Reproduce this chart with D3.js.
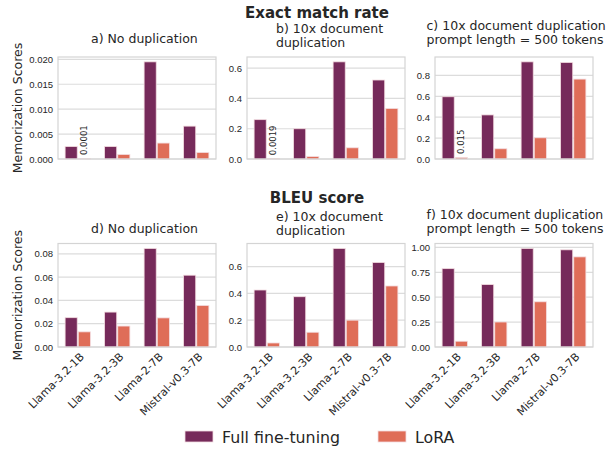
<!DOCTYPE html>
<html>
<head>
<meta charset="utf-8">
<style>
body { margin: 0; background: #fff; }
svg { font-family: "DejaVu Sans", sans-serif; }
.tick-label { font-size: 9.5px; fill: #262626; }
.x-label { font-size: 11px; fill: #262626; }
.sub-title { font-size: 12.5px; fill: #262626; }
.main-title { font-size: 15px; font-weight: bold; fill: #262626; text-anchor: middle; }
.ylab { font-size: 12.5px; fill: #262626; text-anchor: middle; }
.note { font-size: 8.5px; fill: #262626; }
.legend-text { font-size: 15.8px; fill: #262626; }
</style>
</head>
<body>
<script src="https://cdnjs.cloudflare.com/ajax/libs/d3/7.8.5/d3.min.js"></script>
<script>
const models = ["Llama-3.2-1B", "Llama-3.2-3B", "Llama-2-7B", "Mistral-v0.3-7B"];
const methods = ["Full fine-tuning", "LoRA"];

// exact match rate
const exactNoDupFull = [0.0025, 0.0025, 0.0195, 0.0066];
const exactNoDupLora = [0.0001, 0.0009, 0.0032, 0.0013];
const exactDupFull = [0.26, 0.20, 0.642, 0.522];
const exactDupLora = [0.0019, 0.016, 0.074, 0.334];
const exact500Full = [0.596, 0.422, 0.93, 0.924];
const exact500Lora = [0.015, 0.098, 0.203, 0.765];

// BLEU
const bleuNoDupFull = [0.0252, 0.030, 0.0847, 0.0617];
const bleuNoDupLora = [0.013, 0.018, 0.025, 0.0357];
const bleuDupFull = [0.425, 0.375, 0.735, 0.63];
const bleuDupLora = [0.03, 0.11, 0.20, 0.455];
const bleu500Full = [0.787, 0.627, 0.99, 0.976];
const bleu500Lora = [0.058, 0.251, 0.454, 0.905];

const colors = {"Full fine-tuning": "#762a5a", "LoRA": "#df6d58"};

const panels = [
  {row: 0, col: 0, title: ["a) No duplication"], full: exactNoDupFull, lora: exactNoDupLora,
   ticks: [0, 0.005, 0.010, 0.015, 0.020], fmt: ".3f", note: "0.0001"},
  {row: 0, col: 1, title: ["b) 10x document", "duplication"], full: exactDupFull, lora: exactDupLora,
   ticks: [0, 0.2, 0.4, 0.6], fmt: ".1f", note: "0.0019"},
  {row: 0, col: 2, title: ["c) 10x document duplication", "prompt length = 500 tokens"], full: exact500Full, lora: exact500Lora,
   ticks: [0, 0.2, 0.4, 0.6, 0.8], fmt: ".1f", note: "0.015"},
  {row: 1, col: 0, title: ["d) No duplication"], full: bleuNoDupFull, lora: bleuNoDupLora,
   ticks: [0, 0.02, 0.04, 0.06, 0.08], fmt: ".2f"},
  {row: 1, col: 1, title: ["e) 10x document", "duplication"], full: bleuDupFull, lora: bleuDupLora,
   ticks: [0, 0.2, 0.4, 0.6], fmt: ".1f"},
  {row: 1, col: 2, title: ["f) 10x document duplication", "prompt length = 500 tokens"], full: bleu500Full, lora: bleu500Lora,
   ticks: [0, 0.25, 0.5, 0.75, 1.0], fmt: ".2f"}
];

const W = 608, H = 451;
const colLeft = [58, 247, 435], panelW = 158;
const rowTop = [57, 243.5], panelH = [102, 103.5];
const titleX = [91, 276, 426.5];
const titleY = [[43.3, 33.3, 30], [233.3, 221, 219]];

const svg = d3.select("body").append("svg").attr("width", W).attr("height", H);

svg.append("text").attr("class", "main-title").attr("x", 317).attr("y", 18).text("Exact match rate");
svg.append("text").attr("class", "main-title").attr("x", 317).attr("y", 202.5).text("BLEU score");

panels.forEach(p => {
  const x0 = colLeft[p.col], y0 = rowTop[p.row], h = panelH[p.row];
  const g = svg.append("g").attr("transform", `translate(${x0},${y0})`);
  const ymax = d3.max(p.full.concat(p.lora)) * 1.05;
  const y = d3.scaleLinear().domain([0, ymax]).range([h, 0]);
  const x = d3.scaleBand().domain(models).range([0, panelW]).padding(0);
  const bw = x.bandwidth();

  // grid
  g.selectAll("line.grid").data(p.ticks).join("line")
    .attr("x1", 0).attr("x2", panelW)
    .attr("y1", d => y(d)).attr("y2", d => y(d))
    .attr("stroke", "#dcdcdc").attr("stroke-width", 1.2);

  const yAxis = d3.axisLeft(y).tickValues(p.ticks).tickFormat(d3.format(p.fmt)).tickSize(0).tickPadding(5);
  const ya = g.append("g").call(yAxis);
  ya.select(".domain").remove();
  ya.selectAll("text").attr("class", "tick-label").attr("font-family", null).attr("font-size", null);

  const rows = models.map((m, i) => ({model: m, full: p.full[i], lora: p.lora[i]}));
  const inner = d3.scaleBand().domain(methods).range([bw * 0.18, bw * 0.82]).paddingInner(0.08);
  methods.forEach(meth => {
    const key = meth === "LoRA" ? "lora" : "full";
    g.selectAll(null).data(rows).join("rect")
      .attr("x", d => x(d.model) + inner(meth))
      .attr("width", inner.bandwidth())
      .attr("y", d => y(d[key]))
      .attr("height", d => h - y(d[key]))
      .attr("fill", colors[meth])
      .attr("stroke", "#f3dce0").attr("stroke-width", 0.8);
  });

  if (p.note) {
    const nx = x(models[0]) + inner("LoRA") + inner.bandwidth() / 2;
    const ny = y(p.lora[0]) - 3.5;
    g.append("text").attr("class", "note")
      .attr("transform", `translate(${nx},${ny}) rotate(-90)`)
      .attr("dominant-baseline", "central")
      .text(p.note);
  }

  // frame
  g.append("rect").attr("x", 0).attr("y", 0).attr("width", panelW).attr("height", h)
    .attr("fill", "none").attr("stroke", "#d4d4d4").attr("stroke-width", 1.2);

  // title
  const t = svg.append("text").attr("class", "sub-title");
  p.title.forEach((line, i) => {
    t.append("tspan").attr("x", titleX[p.col]).attr("y", titleY[p.row][p.col] + i * 13.8).text(line);
  });

  // x labels on bottom row
  if (p.row === 1) {
    models.forEach(m => {
      const cx = x(m) + bw / 2;
      g.append("text").attr("class", "x-label")
        .attr("text-anchor", "end")
        .attr("transform", `translate(${cx + 7},${h + 10.5}) rotate(-45)`)
        .text(m);
    });
  }
});

// y labels
[0, 1].forEach(r => {
  svg.append("text").attr("class", "ylab")
    .attr("transform", `translate(22,${rowTop[r] + panelH[r] / 2}) rotate(-90)`)
    .text("Memorization Scores");
});

// legend
const leg = svg.append("g");
const legX = [185, 378];
methods.forEach((m, i) => {
  leg.append("rect").attr("x", legX[i]).attr("y", 431).attr("width", 28).attr("height", 11)
    .attr("fill", colors[m]).attr("stroke", "#f3dce0").attr("stroke-width", 0.8);
  leg.append("text").attr("class", "legend-text").attr("x", legX[i] + 37).attr("y", 442.5).text(m);
});
</script>
</body>
</html>
